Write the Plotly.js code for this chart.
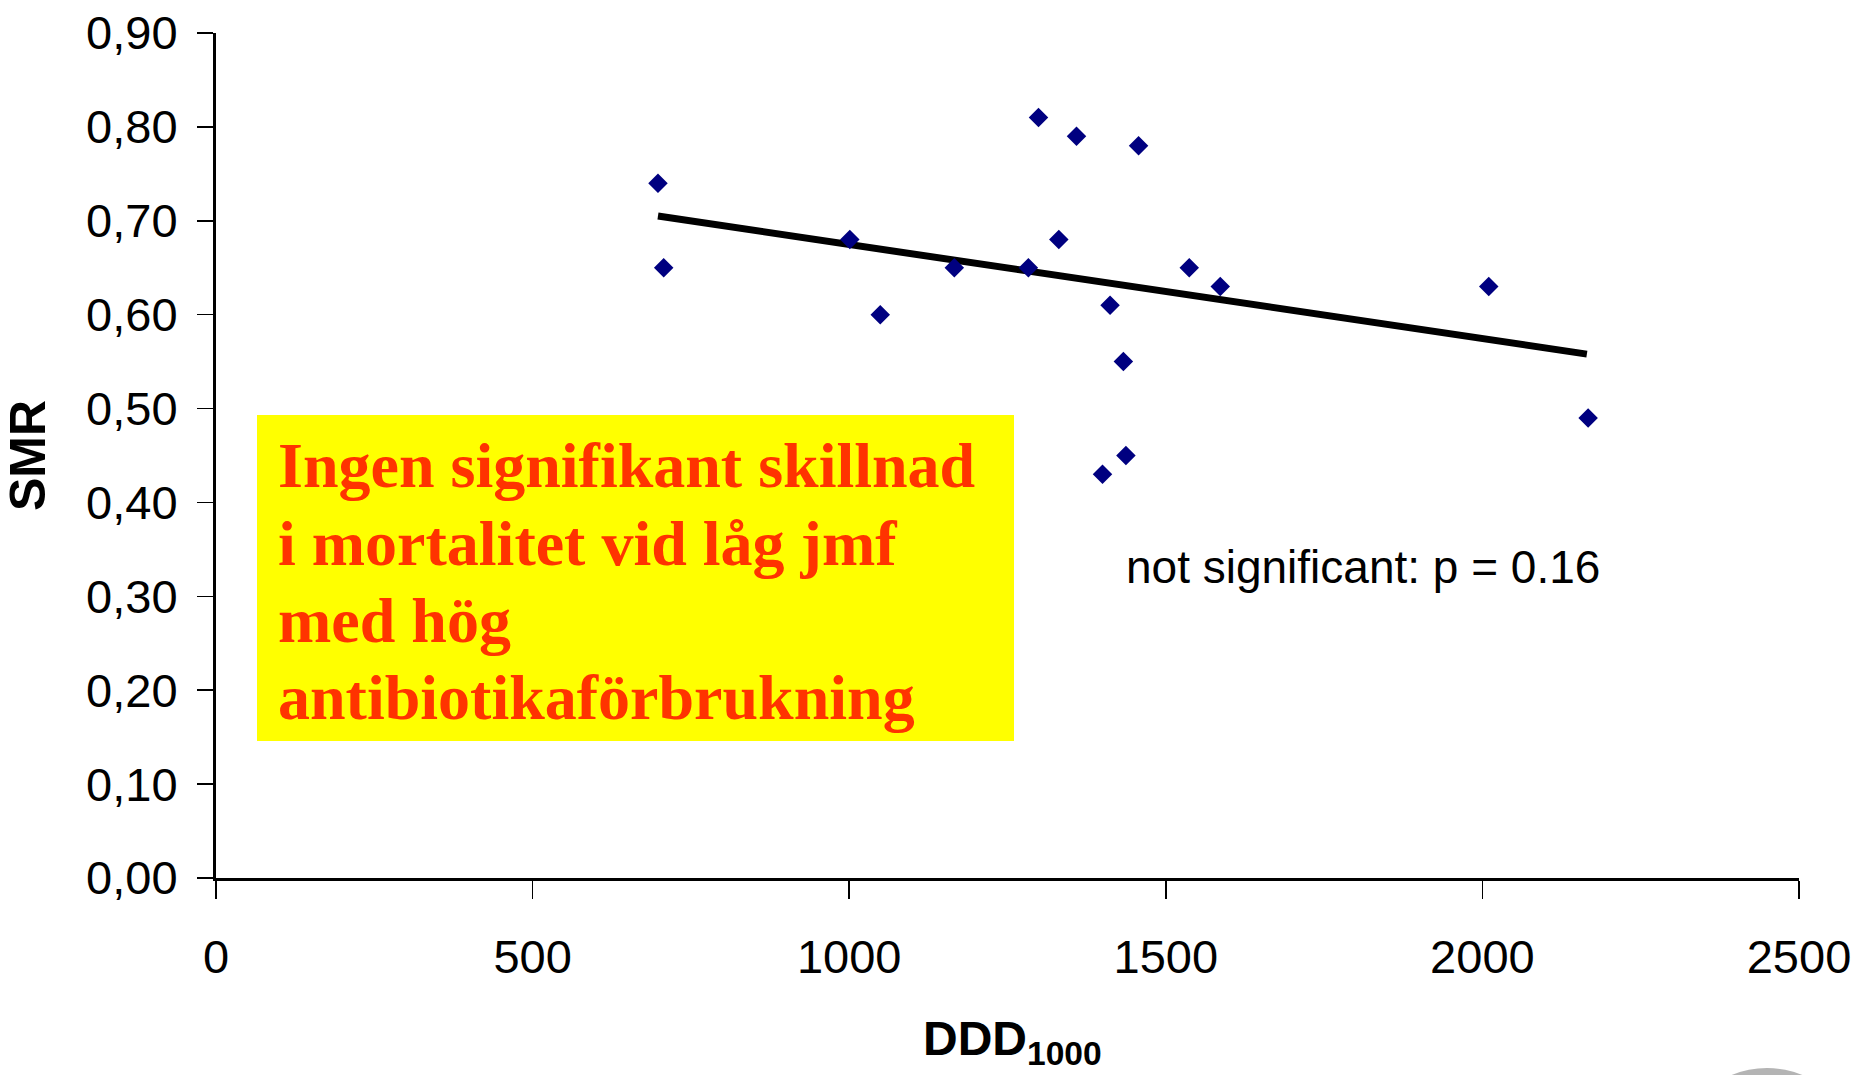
<!DOCTYPE html>
<html>
<head>
<meta charset="utf-8">
<script src="https://cdn.plot.ly/plotly-3.0.1.min.js"></script>
<style>
  html, body { margin: 0; padding: 0; background: #ffffff; }
  #chart { width: 1853px; height: 1075px; }
</style>
</head>
<body>
<div id="chart"></div>
<script>
// ---- data ----
const ddd = [698, 707, 1001, 1049, 1166, 1283, 1299, 1331, 1359, 1457, 1412, 1433, 1400, 1437, 1537, 1586, 2010, 2167];
const smr = [0.74, 0.65, 0.68, 0.60, 0.65, 0.65, 0.81, 0.68, 0.79, 0.78, 0.61, 0.55, 0.43, 0.45, 0.65, 0.63, 0.63, 0.49];

const trendX = [698, 2165];
const trendY = [0.705, 0.558];

const xTickVals = [0, 500, 1000, 1500, 2000, 2500];
const xTickText = ['0', '500', '1000', '1500', '2000', '2500'];
const yTickVals = [0, 0.1, 0.2, 0.3, 0.4, 0.5, 0.6, 0.7, 0.8, 0.9];
const yTickText = ['0,00', '0,10', '0,20', '0,30', '0,40', '0,50', '0,60', '0,70', '0,80', '0,90'];

const xTitle = 'DDD<sub>1000</sub>';
const yTitle = 'SMR';
const boxLines = ['Ingen signifikant skillnad', 'i mortalitet vid låg jmf', 'med hög', 'antibiotikaförbrukning'];
const pNote = 'not significant: p = 0.16';

// ---- layout helpers (pixel -> paper) ----
const W = 1853, H = 1075, L = 216, R = 54, T = 33, B = 197;
const PW = W - L - R, PH = H - T - B;
const px = x => (x - L) / PW;
const py = y => (H - B - y) / PH;

const SANS = '"Liberation Sans", Arial, sans-serif';
const SERIF = '"Liberation Serif", "Times New Roman", serif';

const traces = [
  {
    x: trendX, y: trendY, type: 'scatter', mode: 'lines',
    line: { color: '#000000', width: 7 }, hoverinfo: 'skip', showlegend: false
  },
  {
    x: ddd, y: smr, type: 'scatter', mode: 'markers',
    marker: { symbol: 'diamond', size: 15, color: '#000080', line: { width: 0 } },
    showlegend: false
  }
];

const lineCenters = [465, 543, 620, 697];
const annotations = boxLines.map((t, i) => ({
  text: t, xref: 'paper', yref: 'paper', x: px(276), y: py(lineCenters[i]),
  xanchor: 'left', yanchor: 'middle', showarrow: false,
  font: { family: SERIF, size: 64, color: '#FF3300', weight: 700 }
}));
annotations.push({
  text: pNote, xref: 'paper', yref: 'paper', x: px(1124), y: py(567),
  xanchor: 'left', yanchor: 'middle', showarrow: false,
  font: { family: SANS, size: 46, color: '#000000' }
});
// x-axis title, placed as an annotation so it can sit low in the bottom margin
annotations.push({
  text: xTitle, xref: 'paper', yref: 'paper', x: px(1012), y: py(1010),
  xanchor: 'center', yanchor: 'top', showarrow: false,
  font: { family: SANS, size: 48, color: '#000000', weight: 700 }
});

const layout = {
  width: W, height: H,
  margin: { l: L, r: R, t: T, b: B, pad: 0 },
  paper_bgcolor: '#ffffff', plot_bgcolor: '#ffffff',
  showlegend: false,
  xaxis: {
    range: [0, 2500], tickmode: 'array', tickvals: xTickVals, ticktext: xTickText,
    ticks: 'outside', ticklen: 18, tickwidth: 1.5, tickcolor: '#000000',
    showline: true, linewidth: 3, linecolor: '#000000',
    showgrid: false, zeroline: false,
    tickfont: { family: SANS, size: 47, color: '#000000' },
    ticklabelstandoff: 18, ticklabeloverflow: 'allow'
  },
  yaxis: {
    range: [0, 0.9], tickmode: 'array', tickvals: yTickVals, ticktext: yTickText,
    ticks: 'outside', ticklen: 16, tickwidth: 1.5, tickcolor: '#000000',
    showline: true, linewidth: 3, linecolor: '#000000',
    showgrid: false, zeroline: false,
    tickfont: { family: SANS, size: 47, color: '#000000' },
    ticklabelstandoff: 10,
    title: { text: yTitle, font: { family: SANS, size: 50, color: '#000000', weight: 700 }, standoff: 28 }
  },
  shapes: [
    { type: 'rect', xref: 'paper', yref: 'paper', x0: px(257), x1: px(1014), y0: py(741), y1: py(415),
      fillcolor: '#FFFF00', line: { width: 0 }, layer: 'below' },
    { type: 'circle', xref: 'paper', yref: 'paper', x0: px(1767 - 93), x1: px(1767 + 93), y0: py(1068 + 186), y1: py(1068),
      fillcolor: '#b4b4b4', line: { width: 0 }, layer: 'above' }
  ],
  annotations: annotations
};

Plotly.newPlot('chart', traces, layout, { displayModeBar: false, staticPlot: true });
</script>
</body>
</html>
